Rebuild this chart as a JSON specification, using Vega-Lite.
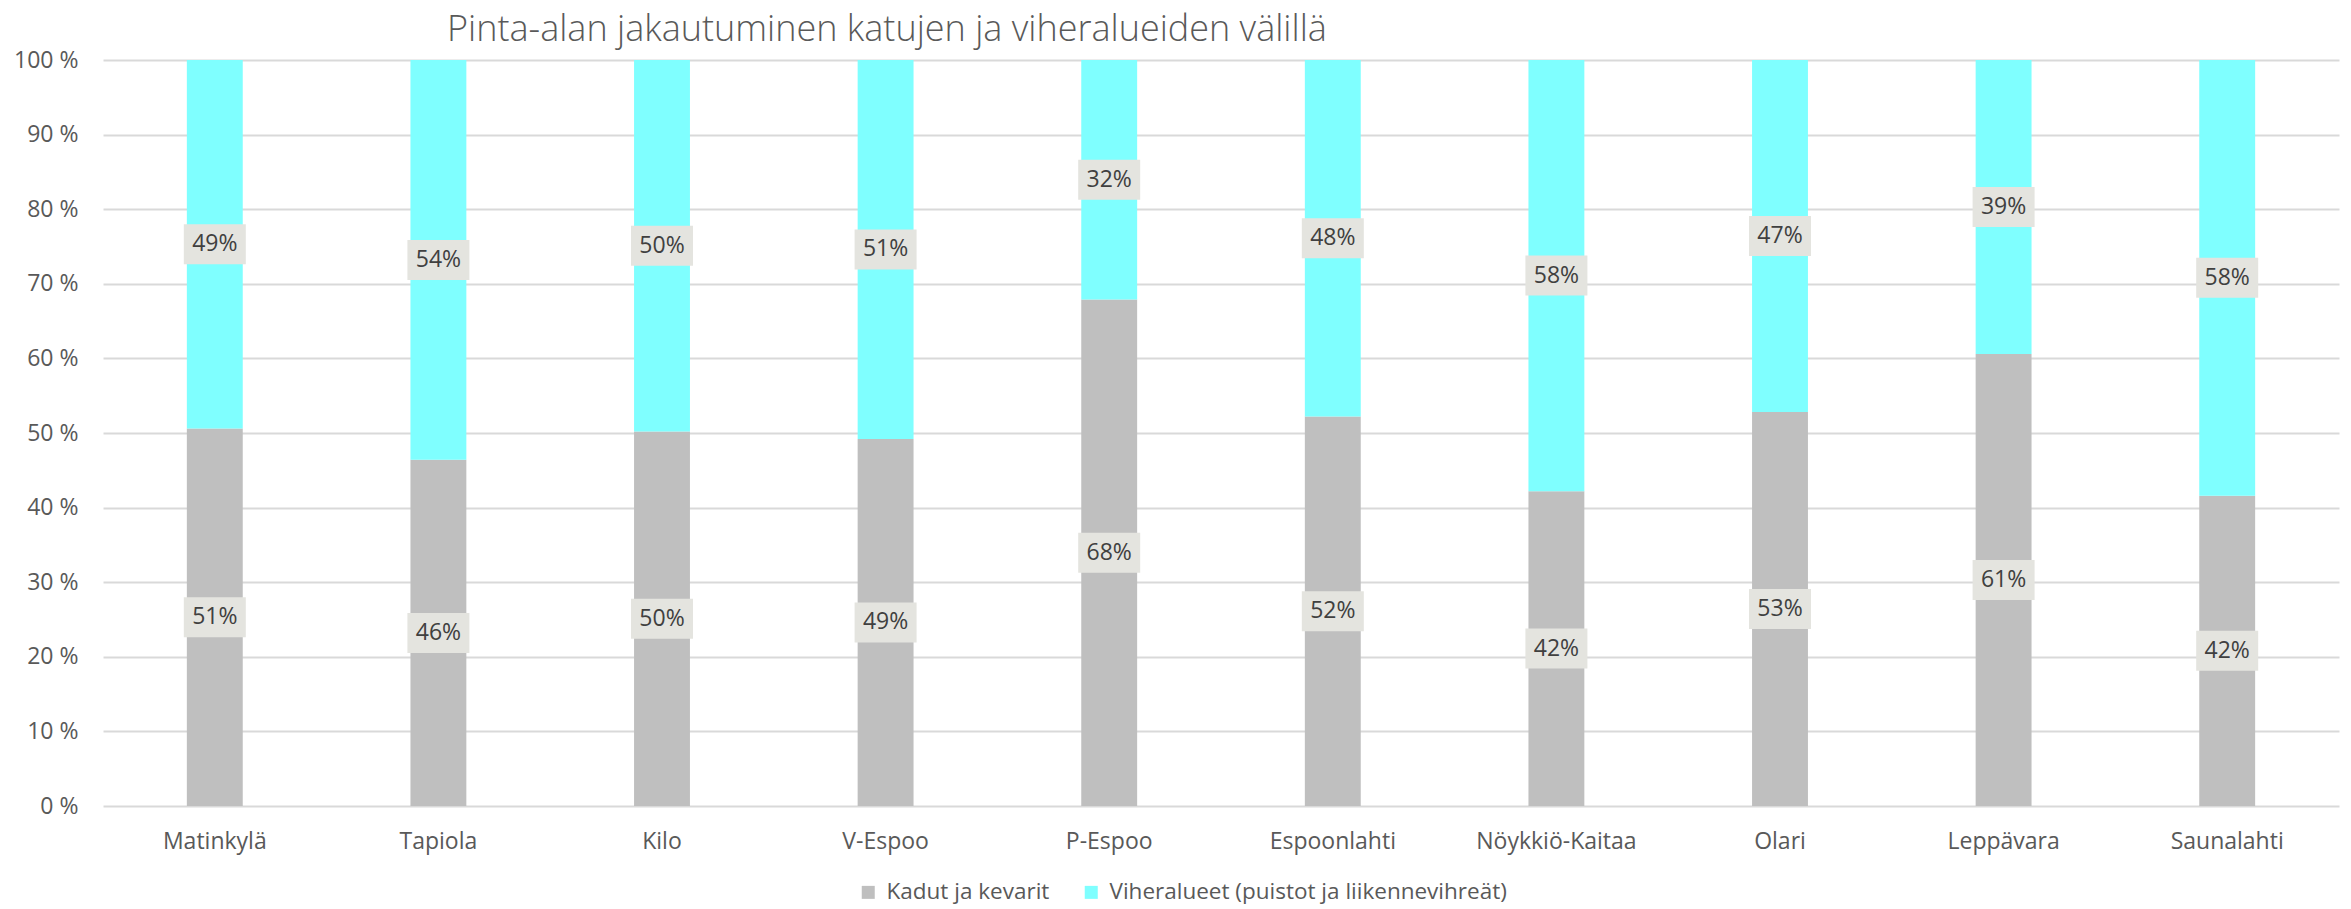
{
  "$schema": "https://vega.github.io/schema/vega-lite/v6.json",
  "width": 2236,
  "height": 746,
  "autosize": {"type": "none"},
  "padding": {"left": 103, "top": 60, "right": 12, "bottom": 103},
  "background": "white",
  "title": {
    "text": "Pinta-alan jakautuminen katujen ja viheralueiden välillä",
    "anchor": "start",
    "frame": "group",
    "dx": 344,
    "dy": 47,
    "fontSize": 36,
    "fontWeight": 300,
    "font": "Open Sans",
    "color": "#595959",
    "baseline": "alphabetic",
    "offset": 19
  },
  "config": {
    "view": {"stroke": null},
    "font": "Open Sans"
  },
  "data": {
    "values": [
      {"alue": "Matinkylä", "luokka": "Kadut ja kevarit", "osuus": 0.506},
      {"alue": "Matinkylä", "luokka": "Viheralueet (puistot ja liikennevihreät)", "osuus": 0.494},
      {"alue": "Tapiola", "luokka": "Kadut ja kevarit", "osuus": 0.464},
      {"alue": "Tapiola", "luokka": "Viheralueet (puistot ja liikennevihreät)", "osuus": 0.536},
      {"alue": "Kilo", "luokka": "Kadut ja kevarit", "osuus": 0.502},
      {"alue": "Kilo", "luokka": "Viheralueet (puistot ja liikennevihreät)", "osuus": 0.498},
      {"alue": "V-Espoo", "luokka": "Kadut ja kevarit", "osuus": 0.492},
      {"alue": "V-Espoo", "luokka": "Viheralueet (puistot ja liikennevihreät)", "osuus": 0.508},
      {"alue": "P-Espoo", "luokka": "Kadut ja kevarit", "osuus": 0.679},
      {"alue": "P-Espoo", "luokka": "Viheralueet (puistot ja liikennevihreät)", "osuus": 0.321},
      {"alue": "Espoonlahti", "luokka": "Kadut ja kevarit", "osuus": 0.522},
      {"alue": "Espoonlahti", "luokka": "Viheralueet (puistot ja liikennevihreät)", "osuus": 0.478},
      {"alue": "Nöykkiö-Kaitaa", "luokka": "Kadut ja kevarit", "osuus": 0.422},
      {"alue": "Nöykkiö-Kaitaa", "luokka": "Viheralueet (puistot ja liikennevihreät)", "osuus": 0.578},
      {"alue": "Olari", "luokka": "Kadut ja kevarit", "osuus": 0.528},
      {"alue": "Olari", "luokka": "Viheralueet (puistot ja liikennevihreät)", "osuus": 0.472},
      {"alue": "Leppävara", "luokka": "Kadut ja kevarit", "osuus": 0.606},
      {"alue": "Leppävara", "luokka": "Viheralueet (puistot ja liikennevihreät)", "osuus": 0.394},
      {"alue": "Saunalahti", "luokka": "Kadut ja kevarit", "osuus": 0.416},
      {"alue": "Saunalahti", "luokka": "Viheralueet (puistot ja liikennevihreät)", "osuus": 0.584}
    ]
  },
  "encoding": {
    "x": {
      "field": "alue",
      "type": "nominal",
      "sort": null,
      "scale": {"paddingInner": 0.75, "paddingOuter": 0.375},
      "axis": {
        "title": null,
        "labelAngle": 0,
        "labelFontSize": 23,
        "labelFont": "Open Sans",
        "labelColor": "#595959",
        "domain": false,
        "ticks": false,
        "labelPadding": 24
      }
    },
    "order": {"field": "luokka", "sort": "ascending"}
  },
  "layer": [
    {
      "mark": {"type": "bar"},
      "encoding": {
        "y": {
          "field": "osuus",
          "type": "quantitative",
          "stack": "zero",
          "scale": {"domain": [0, 1], "nice": false},
          "axis": {
            "title": null,
            "values": [0, 0.1, 0.2, 0.3, 0.4, 0.5, 0.6, 0.7, 0.8, 0.9, 1],
            "labelExpr": "format(datum.value * 100, '.0f') + ' %'",
            "domain": false,
            "ticks": false,
            "labelPadding": 25,
            "gridColor": "#D9D9D9",
            "gridWidth": 2,
            "labelFontSize": 23,
            "labelFont": "Open Sans",
            "labelColor": "#595959"
          }
        },
        "color": {
          "field": "luokka",
          "type": "nominal",
          "scale": {
            "domain": ["Kadut ja kevarit", "Viheralueet (puistot ja liikennevihreät)"],
            "range": ["#BFBFBF", "#7FFFFF"]
          },
          "legend": {
            "title": null,
            "orient": "none",
            "direction": "horizontal",
            "legendX": 754,
            "legendY": 821,
            "symbolType": "square",
            "symbolSize": 169,
            "symbolStrokeWidth": 0,
            "symbolOpacity": 1,
            "labelFontSize": 22.5,
            "labelFont": "Open Sans",
            "labelColor": "#595959",
            "labelOffset": 7,
            "columnPadding": 30,
            "labelLimit": 600
          }
        }
      }
    },
    {
      "mark": {
        "type": "point",
        "shape": "M-1.55,-1H1.55V1H-1.55Z",
        "size": 1600,
        "filled": true,
        "color": "#E4E4DF",
        "opacity": 1
      },
      "encoding": {
        "y": {"field": "osuus", "type": "quantitative", "stack": "zero", "bandPosition": 0.5},
        "detail": {"field": "luokka"}
      }
    },
    {
      "mark": {
        "type": "text",
        "font": "Open Sans",
        "fontSize": 23,
        "color": "#404040",
        "baseline": "middle",
        "align": "center"
      },
      "encoding": {
        "y": {"field": "osuus", "type": "quantitative", "stack": "zero", "bandPosition": 0.5},
        "detail": {"field": "luokka"},
        "text": {"field": "osuus", "type": "quantitative", "format": ".0%"}
      }
    }
  ]
}
